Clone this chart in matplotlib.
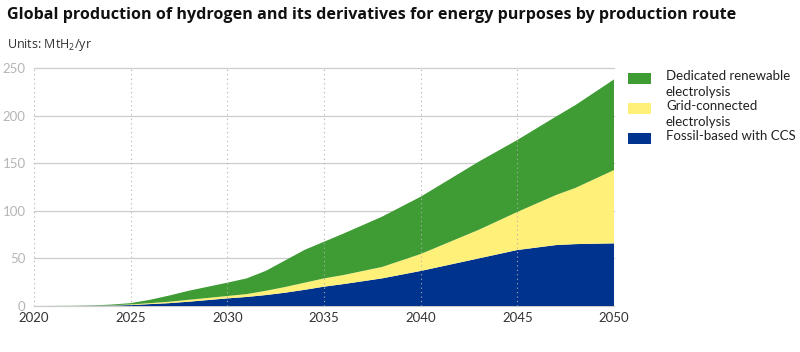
import matplotlib
matplotlib.use("Agg")
import numpy as np
from matplotlib import pyplot as plt
from matplotlib.patches import Rectangle

plt.rcParams['font.family'] = ['Lato', 'DejaVu Sans']
plt.rcParams['mathtext.fontset'] = 'custom'
plt.rcParams['mathtext.rm'] = 'Open Sans'
plt.rcParams['mathtext.it'] = 'Open Sans:italic'

# values (MtH2/yr)
years = [2020, 2022, 2023, 2024, 2025, 2026, 2027, 2028, 2030, 2031, 2032,
         2033, 2034, 2035, 2036, 2038, 2040, 2043, 2045, 2047, 2048, 2050]
fossil_ccs = [0, 0, 0.2, 0.5, 1, 2, 3, 4.5, 8, 9.5, 11.5,
              14, 17, 20.3, 23, 29, 36.8, 50, 58.8, 64, 65, 65.8]
grid_elec = [0, 0, 0.1, 0.3, 0.6, 1, 1.5, 2, 2.5, 3, 4.5,
             6, 7.5, 8.7, 9.5, 12, 17.8, 30, 40, 52.6, 59, 77]
renew_elec = [0, 0.2, 0.3, 0.7, 1.4, 3.5, 6.5, 9.5, 14, 16.5, 21,
              28, 34.5, 38.5, 43.5, 52.8, 60.2, 71.6, 75.6, 82.4, 87, 95.2]

labels = ['Dedicated renewable\nelectrolysis', 'Grid-connected\nelectrolysis', 'Fossil-based with CCS']
colors = ['#3f9c35', '#fff07a', '#00338d']

xticks = [2020, 2025, 2030, 2035, 2040, 2045, 2050]
yticks = [0, 50, 100, 150, 200, 250]

W, H = 800, 352
fig = plt.figure(figsize=(W / 100, H / 100), dpi=100)
ax = fig.add_axes([0.0425, 0.1307, 0.725, 0.6761])

ax.stackplot(years, fossil_ccs, grid_elec, renew_elec,
             colors=[colors[2], colors[1], colors[0]], linewidth=0, zorder=2)

ax.set_xlim(2020, 2050)
ax.set_ylim(0, 250)
ax.set_xticks(xticks)
ax.set_yticks(yticks)

for y in yticks:
    ax.axhline(y, color='#cccccc', lw=0.9, zorder=1, clip_on=False)
for x in xticks:
    ax.axvline(x, color='#b0b0b0', lw=0.8, ls=(0, (1, 3)), zorder=3)

for s in ax.spines.values():
    s.set_visible(False)
ax.tick_params(axis='y', length=0, labelsize=9.5, labelcolor='#b5b5b5', pad=6)
ax.tick_params(axis='x', length=0, labelsize=9.5, labelcolor='#333333', pad=4)

# legend drawn by hand so patches line up with the first text line
row_centers = [78, 109, 138]
for lab, col, yc in zip(labels, colors, row_centers):
    fig.add_artist(Rectangle((628 / W, 1 - (yc + 5.5) / H), 23 / W, 11 / H,
                             transform=fig.transFigure, facecolor=col, edgecolor='none'))
    fig.text(666 / W, 1 - (yc - 8.5) / H, lab, fontsize=9.5, color='#222222',
             va='top', ha='left', linespacing=1.4)

fig.text(0.009, 0.958, 'Global production of hydrogen and its derivatives for energy purposes by production route',
         fontsize=11.6, fontweight='bold', family='Open Sans', color='#111111', va='center')
fig.text(0.009, 0.872, 'Units: MtH$_2$/yr', fontsize=9, family='Open Sans', color='#333333', va='center')

fig.savefig('out.png', dpi=100)
